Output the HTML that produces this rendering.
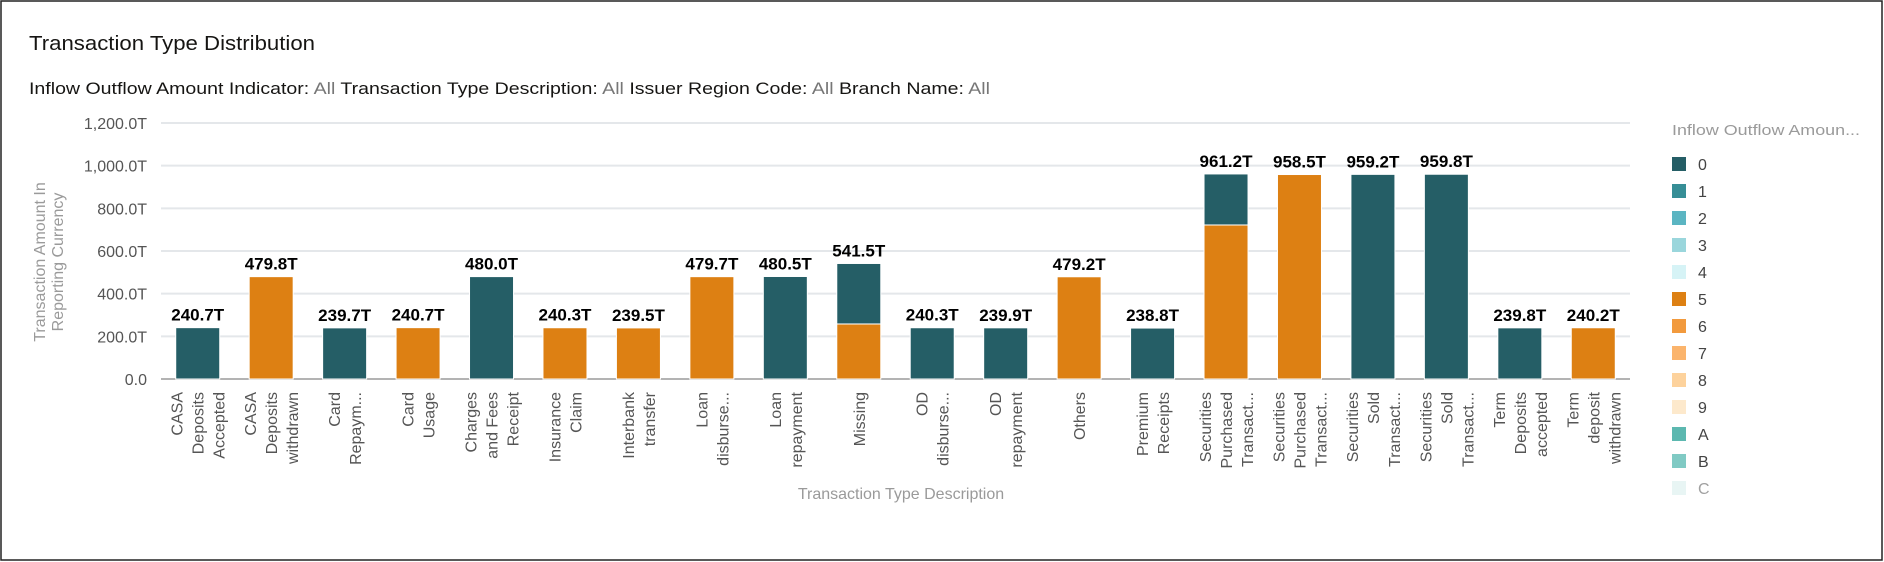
<!DOCTYPE html>
<html><head><meta charset="utf-8"><style>
html,body{margin:0;padding:0;background:#fff;}
svg{display:block;font-family:"Liberation Sans",sans-serif;}
</style></head><body>
<svg id="chart" width="1884" height="562" viewBox="0 0 1884 562" xmlns="http://www.w3.org/2000/svg">
<rect x="1" y="1" width="1881" height="559" fill="#fff" stroke="#222" stroke-width="1.5"/>
<text x="29" y="50" font-size="20" fill="#161513" textLength="286" lengthAdjust="spacingAndGlyphs">Transaction Type Distribution</text>
<text x="29" y="94" font-size="17" fill="#161513" textLength="961" lengthAdjust="spacingAndGlyphs">Inflow Outflow Amount Indicator: <tspan fill="#777">All</tspan>   Transaction Type Description: <tspan fill="#777">All</tspan>   Issuer Region Code: <tspan fill="#777">All</tspan>   Branch Name: <tspan fill="#777">All</tspan></text>
<g id="grid"></g>
<g id="bars"></g>
<g id="labels"></g>
<g id="xlabels"></g>
<g transform="translate(45,262) rotate(-90)">
<text x="0" y="0" font-size="16" fill="#9a9a9a" text-anchor="middle">Transaction Amount In</text>
<text x="0" y="18" font-size="16" fill="#9a9a9a" text-anchor="middle">Reporting Currency</text>
</g>
<text x="901" y="499" font-size="16" fill="#9a9a9a" text-anchor="middle">Transaction Type Description</text>
<text x="1672" y="135" font-size="15" fill="#9a9a9a" textLength="188" lengthAdjust="spacingAndGlyphs">Inflow Outflow Amoun...</text>
<g id="legend"></g>
</svg>
<script>
const categories = [
 ["CASA","Deposits","Accepted"],["CASA","Deposits","withdrawn"],["Card","Repaym..."],["Card","Usage"],
 ["Charges","and Fees","Receipt"],["Insurance","Claim"],["Interbank","transfer"],["Loan","disburse..."],
 ["Loan","repayment"],["Missing"],["OD","disburse..."],["OD","repayment"],["Others"],["Premium","Receipts"],
 ["Securities","Purchased","Transact..."],["Securities","Purchased","Transact..."],["Securities","Sold","Transact..."],
 ["Securities","Sold","Transact..."],["Term","Deposits","accepted"],["Term","deposit","withdrawn"]
];
const series0 = [240.7,0,239.7,0,480.0,0,0,0,480.5,283.5,240.3,239.9,0,238.8,239.2,0,959.2,959.8,239.8,0];
const series5 = [0,479.8,0,240.7,0,240.3,239.5,479.7,0,258.0,0,0,479.2,0,722.0,958.5,0,0,0,240.2];
const totalLabels = ["240.7T","479.8T","239.7T","240.7T","480.0T","240.3T","239.5T","479.7T","480.5T","541.5T","240.3T","239.9T","479.2T","238.8T","961.2T","958.5T","959.2T","959.8T","239.8T","240.2T"];
const yTicks = [0,200,400,600,800,1000,1200];
const yTickLabels = ["0.0","200.0T","400.0T","600.0T","800.0T","1,000.0T","1,200.0T"];
const legendKeys = ["0","1","2","3","4","5","6","7","8","9","A","B","C"];
const legendColors = ["#255e66","#368e96","#5bb5c2","#9ad6dc","#d6f3f6","#dd8013","#f29a3d","#fbb46c","#fdd29c","#fde9cc","#5cb8b0","#80cac4","#d3ecea"];

const NS="http://www.w3.org/2000/svg";
const X0=161,X1=1630,Y0=379,Y1=123,YMAX=1200;
const band=(X1-X0)/categories.length;
const y=v=>Y0-(v/YMAX)*(Y0-Y1);
const xc=i=>X0+band*(i+0.5);
const bw=44;
function mk(tag,attrs,parent,txt){const e=document.createElementNS(NS,tag);for(const k in attrs)e.setAttribute(k,attrs[k]);if(txt!==undefined)e.textContent=txt;parent.appendChild(e);return e;}
const grid=document.getElementById('grid');
yTicks.forEach((t,i)=>{
  if(t>0){const l=mk('line',{x1:X0,x2:X1,y1:y(t),y2:y(t),stroke:'#e4e7ea','stroke-width':2},grid);
  
  }
  const tx=mk('text',{x:147,y:y(t)+6,'font-size':16,fill:'#555','text-anchor':'end'},grid,yTickLabels[i]);
  
  
});
const ax=mk('line',{x1:X0,x2:X1,y1:Y0,y2:Y0,stroke:'#9a9a9a','stroke-width':1.5},grid);


const bars=document.getElementById('bars'),labels=document.getElementById('labels'),xl=document.getElementById('xlabels');
categories.forEach((c,i)=>{
  const cx=xc(i);
  let base=0;
  [[series5[i],'#dd8013'],[series0[i],'#255e66']].forEach(([v,col])=>{
    if(v<=0)return;
    const r=mk('rect',{x:cx-bw/2,y:y(base+v),width:bw,height:y(base)-y(base+v),fill:col,stroke:'#fff','stroke-width':1},bars);
    
    
    base+=v;
  });
  const lb=mk('text',{x:cx,y:y(base)-7,'font-size':17,'font-weight':'bold',fill:'#000','text-anchor':'middle'},labels,totalLabels[i]);
  
  
  const g=mk('g',{},xl);
  
  
  const n=c.length;
  c.forEach((line,j)=>{
    const lx=cx+(j-(n-1)/2)*21+6;
    mk('text',{x:0,y:0,'font-size':16,fill:'#555','text-anchor':'end',transform:`translate(${lx},392) rotate(-90)`},g,line);
  });
});
const lg=document.getElementById('legend');
legendKeys.forEach((k,i)=>{
  const g=mk('g',{opacity:i===12?0.5:1},lg);
  
  
  const yy=157+i*27;
  mk('rect',{x:1672,y:yy,width:14,height:14,fill:legendColors[i]},g);
  mk('text',{x:1698,y:yy+13,'font-size':16,fill:'#444'},g,k);
});
</script>
</body></html>
